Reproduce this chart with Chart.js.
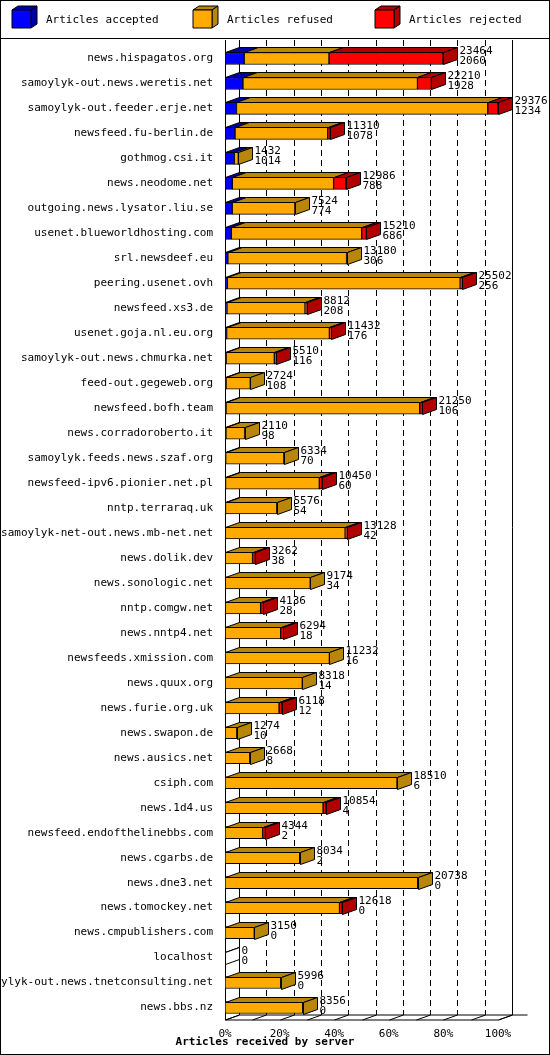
<!DOCTYPE html>
<html>
<head>
<meta charset="utf-8">
<script src="https://cdn.jsdelivr.net/npm/chart.js@4"></script>
<style>
  html, body { margin: 0; padding: 0; background: #fff; }
  #wrap { width: 550px; height: 1055px; position: relative; }
</style>
</head>
<body>
<div id="wrap"><canvas id="grafica" width="550" height="1055"></canvas></div>
<script>
// servidores (eje Y)
const servidores = ["news.hispagatos.org", "samoylyk-out.news.weretis.net", "samoylyk-out.feeder.erje.net",
    "newsfeed.fu-berlin.de", "gothmog.csi.it", "news.neodome.net", "outgoing.news.lysator.liu.se",
    "usenet.blueworldhosting.com", "srl.newsdeef.eu", "peering.usenet.ovh", "newsfeed.xs3.de",
    "usenet.goja.nl.eu.org", "samoylyk-out.news.chmurka.net", "feed-out.gegeweb.org", "newsfeed.bofh.team",
    "news.corradoroberto.it", "samoylyk.feeds.news.szaf.org", "newsfeed-ipv6.pionier.net.pl",
    "nntp.terraraq.uk", "samoylyk-net-out.news.mb-net.net", "news.dolik.dev", "news.sonologic.net",
    "nntp.comgw.net", "news.nntp4.net", "newsfeeds.xmission.com", "news.quux.org", "news.furie.org.uk",
    "news.swapon.de", "news.ausics.net", "csiph.com", "news.1d4.us", "newsfeed.endofthelinebbs.com",
    "news.cgarbs.de", "news.dne3.net", "news.tomockey.net", "news.cmpublishers.com", "localhost",
    "samoylyk-out.news.tnetconsulting.net", "news.bbs.nz"];
// total de articulos recibidos
const totales = [23464, 22210, 29376, 11310, 1432, 12986, 7524, 15210, 13180, 25502, 8812, 11432, 5510,
    2724, 21250, 2110, 6334, 10450, 5576, 13128, 3262, 9174, 4136, 6294, 11232, 8318, 6118, 1274, 2668,
    18510, 10854, 4344, 8034, 20738, 12618, 3150, 0, 5996, 8356];
const aceptados = [2060, 1928, 1234, 1078, 1014, 788, 774, 686, 306, 256, 208, 176, 116, 108, 106, 98,
    70, 60, 54, 42, 38, 34, 28, 18, 16, 14, 12, 10, 8, 6, 4, 2, 2, 0, 0, 0, 0, 0, 0];
const rechazados = [12274, 1500, 1100, 250, 0, 1300, 0, 500, 100, 200, 200, 200, 200, 0, 300, 0, 0, 300,
    0, 200, 300, 0, 300, 300, 0, 0, 300, 0, 0, 0, 300, 300, 0, 0, 300, 0, 0, 0, 0];
const rechazadosFinal = rechazados; // se mantiene el orden
const rehusados = totales.map((t, i) => Math.max(0, t - aceptados[i] - rechazados[i]));
const maximo = 29376;
const porcentajes = [0, 10, 20, 30, 40, 50, 60, 70, 80, 90, 100];

const colores = [
    {front: "#0000ff", side: "#0000a8", label: "Articles accepted"},
    {front: "#ffaa00", side: "#b8860b", label: "Articles refused"},
    {front: "#ff0000", side: "#b00000", label: "Articles rejected"}
];
const DX = 14, DY = 5;
const FUENTE = "11px 'DejaVu Sans Mono'";

function cara(ctx, pts, fill) {
    ctx.beginPath();
    ctx.moveTo(pts[0][0], pts[0][1]);
    for (var i = 1; i < pts.length; i++) ctx.lineTo(pts[i][0], pts[i][1]);
    ctx.closePath();
    ctx.fillStyle = fill;
    ctx.fill();
    ctx.stroke();
}

const plugin3D = {
    id: "plugin3D",
    beforeDatasetsDraw(chart) {
        var ctx = chart.ctx, xs = chart.scales.x, a = chart.chartArea;
        ctx.save();
        // marco general y leyenda
        ctx.strokeStyle = "#000";
        ctx.lineWidth = 1;
        ctx.strokeRect(0.5, 0.5, 549, 1054);
        ctx.beginPath(); ctx.moveTo(0, 38.5); ctx.lineTo(550, 38.5); ctx.stroke();
        var lx = [12, 193, 375];
        ctx.font = FUENTE;
        ctx.textBaseline = "middle";
        for (var k = 0; k < 3; k++) {
            var x0 = lx[k], y0 = 10, w = 19, h = 18, d = 6;
            ctx.strokeStyle = "#000";
            cara(ctx, [[x0, y0], [x0 + d, y0 - d + 2], [x0 + w + d, y0 - d + 2], [x0 + w, y0]], colores[k].side);
            cara(ctx, [[x0 + w, y0], [x0 + w + d, y0 - d + 2], [x0 + w + d, y0 + h - d + 2], [x0 + w, y0 + h]], colores[k].side);
            cara(ctx, [[x0, y0], [x0 + w, y0], [x0 + w, y0 + h], [x0, y0 + h]], colores[k].front);
            ctx.fillStyle = "#000";
            ctx.fillText(colores[k].label, x0 + 34, 20);
        }
        // rejilla discontinua desplazada (pared del fondo)
        ctx.setLineDash([6, 4]);
        for (var i = 1; i < porcentajes.length - 1; i++) {
            var px = Math.round(xs.getPixelForValue(porcentajes[i] * maximo / 100)) + DX + 0.5;
            ctx.beginPath(); ctx.moveTo(px, a.top - 6); ctx.lineTo(px, a.bottom - DY); ctx.stroke();
        }
        ctx.setLineDash([]);
        var x0p = Math.round(xs.getPixelForValue(0)) + 0.5;
        var x1p = Math.round(xs.getPixelForValue(maximo)) + 0.5;
        // paredes
        ctx.beginPath();
        ctx.moveTo(x0p + DX, a.top - 6); ctx.lineTo(x0p + DX, a.bottom - DY);
        ctx.moveTo(x1p + DX, a.top - 6); ctx.lineTo(x1p + DX, a.bottom - DY);
        ctx.moveTo(x0p + DX, a.bottom - DY); ctx.lineTo(x1p + DX + 15, a.bottom - DY);
        ctx.moveTo(x0p, a.bottom); ctx.lineTo(x1p, a.bottom); ctx.lineTo(x1p + DX, a.bottom - DY);
        ctx.moveTo(x0p, a.bottom); ctx.lineTo(x0p + DX, a.bottom - DY);
        ctx.moveTo(x0p, a.top - 6); ctx.lineTo(x0p, a.bottom);
        for (var j = 0; j < porcentajes.length; j++) {
            var tx = Math.round(xs.getPixelForValue(porcentajes[j] * maximo / 100)) + 0.5;
            ctx.moveTo(tx, a.bottom); ctx.lineTo(tx + DX, a.bottom - DY);
        }
        ctx.stroke();
        ctx.restore();
    },
    afterDatasetsDraw(chart) {
        var ctx = chart.ctx;
        ctx.save();
        ctx.strokeStyle = "#000";
        ctx.lineWidth = 1;
        var metas = [0, 1, 2].map(d => chart.getDatasetMeta(d).data);
        for (var i = 0; i < servidores.length; i++) {
            var last = -1, xEnd = 0, yTop = 0, yBot = 0;
            for (var d = 0; d < 3; d++) {
                var el = metas[d][i];
                var x0 = Math.round(el.base) + 0.5, x1 = Math.round(el.x) + 0.5;
                yTop = Math.round(el.y - el.height / 2) + 0.5;
                yBot = Math.round(el.y + el.height / 2) + 0.5;
                if (x1 - x0 < 0.5 && !(d === 0 && totales[i] === 0)) continue;
                cara(ctx, [[x0, yTop], [x0 + DX, yTop - DY], [x1 + DX, yTop - DY], [x1, yTop]], colores[d].side);
                last = d; xEnd = x1;
            }
            if (last >= 0) {
                cara(ctx, [[xEnd, yTop], [xEnd + DX, yTop - DY], [xEnd + DX, yBot - DY], [xEnd, yBot]], totales[i] === 0 ? "#fff" : colores[last].side);
            }
            ctx.fillStyle = "#000";
            ctx.font = FUENTE;
            ctx.textBaseline = "middle";
            ctx.textAlign = "left";
            var cy = (yTop + yBot) / 2;
            ctx.fillText(String(totales[i]), xEnd + DX + 2, cy - 7);
            ctx.fillText(String(aceptados[i]), xEnd + DX + 2, cy + 3);
        }
        // titulo eje x
        ctx.font = "bold 11px 'DejaVu Sans Mono'";
        ctx.textAlign = "center";
        ctx.fillText("Articles received by server", 265, 1042);
        ctx.restore();
    }
};

new Chart("grafica", {
    type: "bar",
    data: {
        labels: servidores,
        datasets: [
            {label: colores[0].label, data: aceptados, backgroundColor: colores[0].front},
            {label: colores[1].label, data: rehusados, backgroundColor: colores[1].front},
            {label: colores[2].label, data: rechazadosFinal, backgroundColor: colores[2].front}
        ].map(ds => Object.assign(ds, {borderColor: "#000", borderWidth: 1, borderSkipped: false, barThickness: 12}))
    },
    options: {
        indexAxis: "y",
        responsive: false,
        animation: false,
        layout: {padding: {top: 46, right: 52, bottom: 0, left: 0}},
        plugins: {legend: {display: false}, tooltip: {enabled: false}},
        scales: {
            x: {
                stacked: true, min: 0, max: maximo,
                afterBuildTicks: s => { s.ticks = porcentajes.map(p => ({value: p * maximo / 100})); },
                ticks: {
                    callback: v => Math.round(v / maximo * 100) + "%",
                    color: "#000", font: {family: "DejaVu Sans Mono", size: 11}, maxRotation: 0, padding: 0
                },
                grid: {display: false}, border: {display: false},
                afterFit: s => { s.height = 35; }
            },
            y: {
                stacked: true,
                ticks: {color: "#000", font: {family: "DejaVu Sans Mono", size: 11}, autoSkip: false, padding: 4},
                grid: {display: false}, border: {display: false},
                afterFit: s => { s.width = 225; }
            }
        }
    },
    plugins: [plugin3D]
});
</script>
</body>
</html>
